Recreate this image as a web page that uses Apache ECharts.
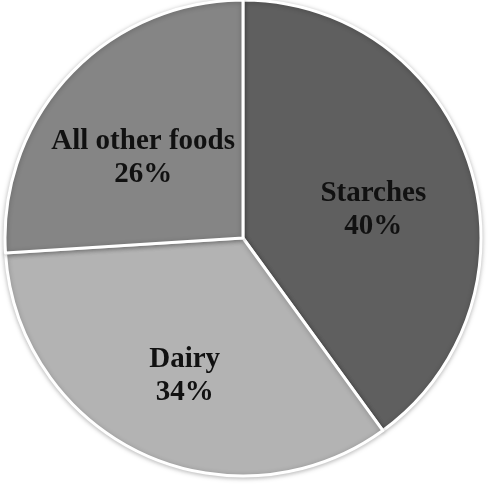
<!DOCTYPE html>
<html>
<head>
    <meta charset="utf-8">
    <title>Food share</title>
    <script src="https://cdn.jsdelivr.net/npm/echarts@6/dist/echarts.min.js"></script>
</head>
<body style="margin:0;background:#fff">
    <div id="main" style="width:490px;height:488px;"></div>
    <script type="text/javascript">

    var categories = ['Starches', 'Dairy', 'All other foods'];
    var shares = [40, 34, 26];
    var colors = ['#5f5f5f', '#b3b3b3', '#858585'];

    var myChart = echarts.init(document.getElementById('main'));

    var slices = [];
    var labels = [];
    for (var i = 0; i < categories.length; i++) {
        slices.push({name: categories[i], value: shares[i], itemStyle: {color: colors[i]}});
        labels.push({name: categories[i], value: shares[i]});
    }

option = {
    animation: false,
    series: [
        {
            type: 'pie',
            center: [243, 238],
            radius: [0, 238],
            startAngle: 90,
            silent: true,
            itemStyle: {
                borderColor: '#fff',
                borderWidth: 3,
                shadowBlur: 5,
                shadowColor: 'rgba(0,0,0,0.25)',
                shadowOffsetY: 1
            },
            label: {show: false},
            labelLine: {show: false},
            data: slices
        },
        {
            // transparent copy, only to place the labels where the original has them
            type: 'pie',
            center: [243, 252],
            radius: [0, 268],
            startAngle: 90,
            silent: true,
            itemStyle: {color: 'rgba(0,0,0,0)'},
            label: {
                show: true,
                position: 'inside',
                formatter: '{b}\n{c}%',
                fontFamily: 'Liberation Serif',
                fontWeight: 'bold',
                fontSize: 29,
                lineHeight: 33,
                color: '#111'
            },
            labelLine: {show: false},
            data: labels
        }
    ]
};
    myChart.setOption(option);

    </script>
</body>
</html>
